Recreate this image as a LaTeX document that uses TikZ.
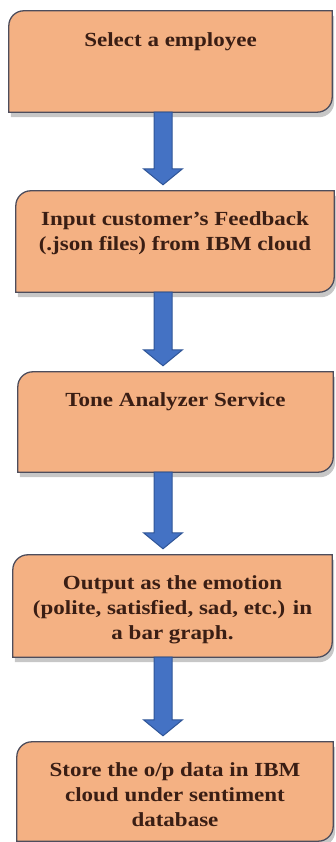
\documentclass[tikz,border=0pt]{standalone}
\usepackage{fontspec}
\newfontfamily\stepfont{Liberation Serif}[FakeStretch=1.15]
\usepackage{xcolor}
\usepackage{tikz}
\usetikzlibrary{arrows.meta, positioning, calc, shadows, backgrounds}
\definecolor{peach}{HTML}{F4B183}
\definecolor{boxline}{HTML}{4D4D5C}
\definecolor{arrowblue}{HTML}{4472C4}
\definecolor{arrowline}{HTML}{2F5597}
\definecolor{textbrown}{HTML}{3A1E14}

\begin{document}
\begin{tikzpicture}[x=1pt, y=1pt,
        stepbox/.style={minimum height=101pt, inner sep=0pt},
        steptext/.style={anchor=north, align=center, inner sep=0pt, text=textbrown,
            font=\stepfont\bfseries\fontsize{20}{25}\selectfont},
        boxshape/.style={draw=boxline, fill=peach, line width=1.3pt,
            drop shadow={shadow xshift=2pt, shadow yshift=-5pt, opacity=0.22, fill=black}},
        blockarrow/.style={draw=arrowline, fill=arrowblue, line width=1pt, line join=miter},
    ]
    \useasboundingbox (0,0) rectangle (335,842);
    % the five steps
    \node[stepbox, minimum width=323pt] (b1) at (170.5,780.5) {};
    \node[stepbox, minimum width=318pt] (b2) at (175,600.5) {};
    \node[stepbox, minimum width=315pt, minimum height=100pt] (b3) at (175.5,420) {};
    \node[stepbox, minimum width=319pt, minimum height=102pt] (b4) at (172.5,236) {};
    \node[stepbox, minimum width=316pt, minimum height=99pt] (b5) at (175,50.5) {};
    \node[steptext, below=22pt of b1.north] (t1) {Select a employee};
    \node[steptext, below=21pt of b2.north] (t2) {Input customer’s Feedback\\(.json files) from IBM cloud};
    \node[steptext, below=21pt of b3.north] (t3) {Tone Analyzer Service};
    \node[steptext, below=21pt of b4.north] (t4) {Output as the emotion\\(polite, satisfied, sad, etc.) in\\a bar graph.};
    \node[steptext, below=21pt of b5.north] (t5) {Store the o/p data in IBM\\cloud under sentiment\\database};
    \begin{scope}[on background layer]
        \foreach \n in {b1,b2,b3,b4,b5}
            \path[boxshape] (\n.south west) -- ([yshift=-15pt]\n.north west)
                arc[start angle=180, end angle=90, radius=15pt] -- (\n.north east)
                -- ([yshift=15pt]\n.south east) arc[start angle=0, end angle=-90, radius=15pt] -- cycle;
    \end{scope}
    % block arrows
    \coordinate (ax) at (163,0);
    \foreach \a/\b in {b1/b2, b2/b3, b3/b4, b4/b5}
        \draw[blockarrow] ($(ax |- \a.south)+(-9,0)$) -- ($(ax |- \b.north)+(-9,22)$)
            -- ($(ax |- \b.north)+(-19.5,22)$) -- ($(ax |- \b.north)+(0,6)$)
            -- ($(ax |- \b.north)+(19.5,22)$) -- ($(ax |- \b.north)+(9,22)$)
            -- ($(ax |- \a.south)+(9,0)$) -- cycle;
\end{tikzpicture}
\end{document}
